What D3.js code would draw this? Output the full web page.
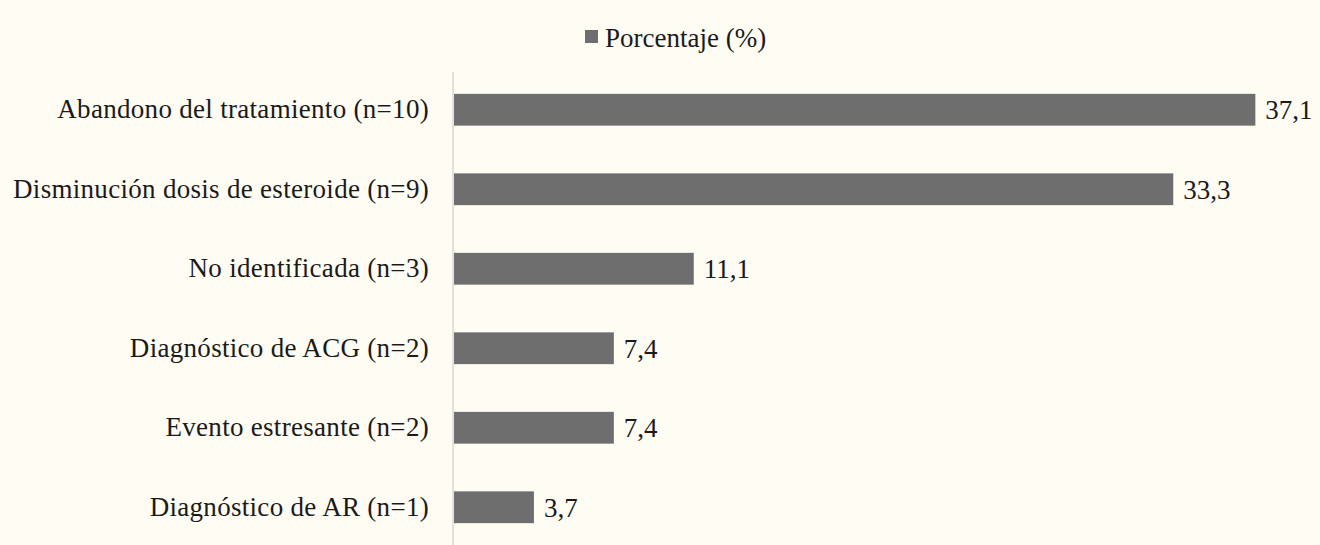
<!DOCTYPE html>
<html>
<head>
<meta charset="utf-8">
<script src="https://cdn.jsdelivr.net/npm/d3@7"></script>
<style>
  html, body { margin: 0; padding: 0; background: #fffdf3; }
  svg { display: block; }
</style>
</head>
<body>
<svg id="chart" width="1320" height="545"></svg>
<script>
const categories = [
  'Abandono del tratamiento (n=10)',
  'Disminución dosis de esteroide (n=9)',
  'No identificada (n=3)',
  'Diagnóstico de ACG (n=2)',
  'Evento estresante (n=2)',
  'Diagnóstico de AR (n=1)'
];
const values = [37.1, 33.3, 11.1, 7.4, 7.4, 3.7];
const valueLabels = ['37,1', '33,3', '11,1', '7,4', '7,4', '3,7'];
const seriesName = 'Porcentaje (%)';

const option =
  {
    width: 1320,
    height: 545,
    plot: { left: 454, top: 70, bottom: 547 },
    unit: 21.6,
    bar: { color: '#6e6e6e' },
    font: { family: '"Liberation Serif", "Times New Roman", serif', size: 27, color: '#1a1a1a' }
  };

const svg = d3.select('#chart');

const x = d3.scaleLinear()
  .domain([0, 1])
  .range([option.plot.left, option.plot.left + option.unit]);

const y = d3.scaleBand()
  .domain(categories)
  .range([option.plot.top, option.plot.bottom])
  .paddingInner(0.6)
  .paddingOuter(0.3);

const data = categories.map((c, i) => ({ name: c, value: values[i], label: valueLabels[i] }));

// bars
svg.append('g')
  .selectAll('rect')
  .data(data)
  .join('rect')
    .attr('x', x(0))
    .attr('y', d => y(d.name))
    .attr('width', d => x(d.value) - x(0))
    .attr('height', y.bandwidth())
    .attr('fill', option.bar.color)
;

// value labels
svg.append('g')
  .selectAll('text')
  .data(data)
  .join('text')
    .text(d => d.label)
    .attr('x', d => x(d.value) + 10)
    .attr('y', d => y(d.name) + y.bandwidth() / 2)
    .attr('dy', '0.35em')
    .attr('font-family', option.font.family)
    .attr('font-size', option.font.size)
    .attr('fill', option.font.color)
;

// category axis
const axis = svg.append('g')
  .attr('transform', `translate(${ option.plot.left - 1 },0)`)
  .call(d3.axisLeft(y).tickSize(0).tickPadding(24));

axis.select('.domain')
  .attr('stroke', '#cfcfcf')
  .attr('stroke-width', 1.2)
  .attr('d', `M0,${ option.plot.top + 2 }V${ option.height }`);

axis.selectAll('text')
  .attr('font-family', option.font.family)
  .attr('font-size', option.font.size)
  .attr('letter-spacing', 0.3)
  .attr('fill', option.font.color);

// legend
const legend = svg.append('g').attr('transform', 'translate(585,37)');

legend.append('rect')
  .attr('x', 0)
  .attr('y', -7)
  .attr('width', 13)
  .attr('height', 13)
  .attr('fill', option.bar.color);

legend.append('text')
  .text(seriesName)
  .attr('x', 20)
  .attr('y', 1)
  .attr('dy', '0.35em')
  .attr('font-family', option.font.family)
  .attr('font-size', option.font.size)
  .attr('fill', option.font.color);
</script>
</body>
</html>
